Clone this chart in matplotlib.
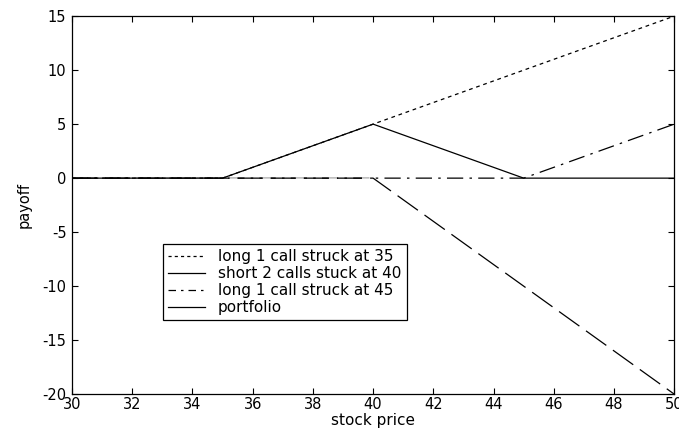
import matplotlib
matplotlib.use("Agg")
import matplotlib.pyplot as plt
from matplotlib.lines import Line2D

plt.rcParams['font.family'] = ['DejaVu Sans']
plt.rcParams['axes.unicode_minus'] = False

stock_price = [30, 35, 40, 45, 50]
long_call_35 = [0, 0, 5, 10, 15]
short_2_calls_40 = [0, 0, 0, -10, -20]
long_call_45 = [0, 0, 0, 0, 5]
portfolio = [0, 0, 5, 0, 0]

legend_labels = ["long 1 call struck at 35", "short 2 calls stuck at 40",
                 "long 1 call struck at 45", "portfolio"]
xticks = [30, 32, 34, 36, 38, 40, 42, 44, 46, 48, 50]
yticks = [-20, -15, -10, -5, 0, 5, 10, 15]

fig = plt.figure(figsize=(6.79, 4.36), dpi=100)
ax = fig.add_axes([0.106, 0.096, 0.887, 0.867])

lw = 0.9
ax.plot(stock_price, long_call_45, color='black', lw=lw,
        linestyle=(0, (13, 5, 2, 5)), zorder=2)
ax.plot(stock_price, short_2_calls_40, color='black', lw=lw,
        linestyle=(0, (20, 6.5)), gapcolor='white', zorder=3)
ax.plot(stock_price, long_call_35, color='black', lw=lw,
        linestyle=(0, (3, 3)), zorder=4)
ax.plot(stock_price, portfolio, color='black', lw=lw, linestyle='-', zorder=5)

ax.set_xlim(30, 50)
ax.set_ylim(-20, 15)
ax.set_xticks(xticks)
ax.set_yticks(yticks)
ax.tick_params(direction='in', top=True, right=True, labelsize=10.5, length=4, width=0.8)
ax.tick_params(axis='y', pad=4)
ax.tick_params(axis='x', pad=2)
for s in ax.spines.values():
    s.set_linewidth(0.9)
ax.set_xlabel("stock price", fontsize=11, labelpad=1)
ax.set_ylabel("payoff", fontsize=10.5, labelpad=8)

handles = [
    Line2D([], [], color='black', lw=lw, linestyle=(0, (2.5, 2.5))),
    Line2D([], [], color='black', lw=lw, linestyle='-'),
    Line2D([], [], color='black', lw=lw, linestyle=(0, (6, 4, 2, 4))),
    Line2D([], [], color='black', lw=lw, linestyle='-'),
]
leg = ax.legend(handles, legend_labels, loc='upper left',
                bbox_to_anchor=(0.151, 0.397), fontsize=11, frameon=True,
                fancybox=False, edgecolor='black', framealpha=1,
                handlelength=2.4, handletextpad=0.85, borderpad=0.35,
                labelspacing=0.12, borderaxespad=0)
leg.set_zorder(10)
leg.get_frame().set_linewidth(0.9)

fig.savefig("out.png", dpi=100)
